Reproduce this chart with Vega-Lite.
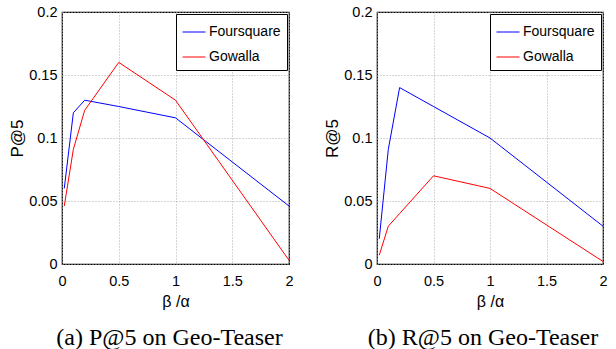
{
  "$schema": "https://vega.github.io/schema/vega-lite/v6.json",
  "background": "white",
  "padding": {"left": 8, "top": 3, "right": 10, "bottom": 0},
  "spacing": 29,
  "datasets": {
    "p5": [
      {"beta": 0.02, "value": 0.060, "dataset": "Foursquare"},
      {"beta": 0.1, "value": 0.120, "dataset": "Foursquare"},
      {"beta": 0.2, "value": 0.130, "dataset": "Foursquare"},
      {"beta": 0.5, "value": 0.125, "dataset": "Foursquare"},
      {"beta": 1, "value": 0.116, "dataset": "Foursquare"},
      {"beta": 2, "value": 0.046, "dataset": "Foursquare"},
      {"beta": 0.02, "value": 0.046, "dataset": "Gowalla"},
      {"beta": 0.1, "value": 0.091, "dataset": "Gowalla"},
      {"beta": 0.2, "value": 0.122, "dataset": "Gowalla"},
      {"beta": 0.5, "value": 0.160, "dataset": "Gowalla"},
      {"beta": 1, "value": 0.130, "dataset": "Gowalla"},
      {"beta": 2, "value": 0.003, "dataset": "Gowalla"}
    ],
    "r5": [
      {"beta": 0.02, "value": 0.020, "dataset": "Foursquare"},
      {"beta": 0.1, "value": 0.091, "dataset": "Foursquare"},
      {"beta": 0.2, "value": 0.140, "dataset": "Foursquare"},
      {"beta": 0.5, "value": 0.125, "dataset": "Foursquare"},
      {"beta": 1, "value": 0.100, "dataset": "Foursquare"},
      {"beta": 2, "value": 0.030, "dataset": "Foursquare"},
      {"beta": 0.02, "value": 0.007, "dataset": "Gowalla"},
      {"beta": 0.1, "value": 0.030, "dataset": "Gowalla"},
      {"beta": 0.2, "value": 0.040, "dataset": "Gowalla"},
      {"beta": 0.5, "value": 0.070, "dataset": "Gowalla"},
      {"beta": 1, "value": 0.060, "dataset": "Gowalla"},
      {"beta": 2, "value": 0.002, "dataset": "Gowalla"}
    ]
  },
  "config": {
    "view": {"stroke": "black", "strokeWidth": 1.2},
    "font": "Liberation Sans",
    "axis": {
      "labelFont": "Liberation Sans",
      "labelFontSize": 14.5,
      "labelColor": "black",
      "titleFont": "Liberation Sans",
      "titleFontSize": 16,
      "titleFontWeight": "normal",
      "titleColor": "black",
      "grid": true,
      "gridColor": "#aaaaaa",
      "gridDash": [1, 2],
      "gridWidth": 1,
      "domain": false,
      "ticks": false,
      "labelFlush": false,
      "labelOverlap": false
    },
    "axisX": {"labelPadding": 10, "titlePadding": 6},
    "axisY": {"labelPadding": 5, "titlePadding": 2, "titleFontSize": 17},
    "legend": {
      "orient": "top-right",
      "offset": 2,
      "strokeColor": "black",
      "fillColor": "white",
      "padding": 6,
      "symbolType": "stroke",
      "symbolSize": 529,
      "symbolStrokeWidth": 1,
      "labelFont": "Liberation Sans",
      "labelFontSize": 14,
      "labelColor": "black",
      "rowPadding": 6,
      "labelOffset": 3
    },
    "title": {
      "font": "Liberation Serif",
      "fontSize": 24,
      "fontWeight": "normal",
      "color": "black"
    }
  },
  "hconcat": [
    {
      "width": 227,
      "height": 252,
      "data": {"name": "p5"},
      "title": {"text": "(a) P@5 on Geo-Teaser", "orient": "bottom", "offset": 16, "dx": -6},
      "mark": {"type": "line", "strokeWidth": 1, "clip": true},
      "encoding": {
        "x": {"field": "beta", "type": "quantitative", "title": "β /α",
          "scale": {"domain": [0, 2], "nice": false},
          "axis": {"values": [0, 0.5, 1, 1.5, 2], "format": "~g"}},
        "y": {"field": "value", "type": "quantitative", "title": "P@5",
          "scale": {"domain": [0, 0.2], "nice": false},
          "axis": {"values": [0, 0.05, 0.1, 0.15, 0.2], "format": "~g"}},
        "color": {"field": "dataset", "type": "nominal", "title": null,
          "scale": {"domain": ["Foursquare", "Gowalla"], "range": ["#0000ff", "#ff0000"]}}
      }
    },
    {
      "width": 226,
      "height": 252,
      "data": {"name": "r5"},
      "title": {"text": "(b) R@5 on Geo-Teaser", "orient": "bottom", "offset": 16, "dx": -7},
      "mark": {"type": "line", "strokeWidth": 1, "clip": true},
      "encoding": {
        "x": {"field": "beta", "type": "quantitative", "title": "β /α",
          "scale": {"domain": [0, 2], "nice": false},
          "axis": {"values": [0, 0.5, 1, 1.5, 2], "format": "~g"}},
        "y": {"field": "value", "type": "quantitative", "title": "R@5",
          "scale": {"domain": [0, 0.2], "nice": false},
          "axis": {"values": [0, 0.05, 0.1, 0.15, 0.2], "format": "~g"}},
        "color": {"field": "dataset", "type": "nominal", "title": null,
          "scale": {"domain": ["Foursquare", "Gowalla"], "range": ["#0000ff", "#ff0000"]}}
      }
    }
  ],
  "resolve": {"scale": {"color": "shared"}, "legend": {"color": "independent"}}
}
